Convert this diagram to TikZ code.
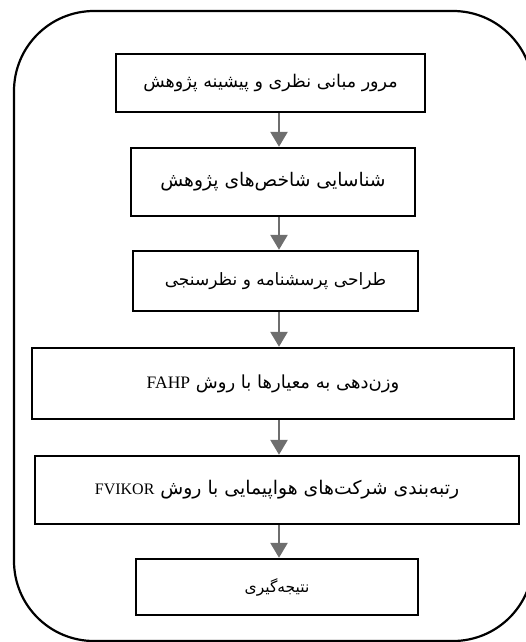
\documentclass[tikz,border=0pt]{standalone}
\usepackage{fontspec}
\usetikzlibrary{arrows.meta}
\TeXXeTstate=1
\newfontfamily\persianfont[Script=Arabic]{DejaVu Sans}
\newfontfamily\latinfont{Liberation Serif}
\definecolor{flowgray}{RGB}{110,110,110}
\tikzset{
  stage/.style={draw, line width=2.4pt, inner sep=0pt, font=\persianfont\fontsize{#1}{22}\selectfont},
  stage/.default=17.5,
  flow/.style={draw=flowgray, line width=2.6pt, -{Triangle[width=17pt,length=15pt]}, flowgray}
}
\begin{document}
\begin{tikzpicture}[x=1pt,y=-1pt]
\useasboundingbox (0,0) rectangle (525,642);
\draw[line width=2.2pt, rounded corners=80pt] (14,11) rectangle (533,641);
\coordinate (axis) at (279,0);
\node[stage=17.5, minimum width=309pt, minimum height=58pt] (review) at (270.5,83) {\beginR مرور مبانی نظری و پیشینه پژوهش\endR};
\node[stage=18.7, minimum width=284pt, minimum height=68pt] (indices) at (273,182) {\beginR شناسایی شاخص‌های پژوهش\endR};
\node[stage=17, minimum width=285pt, minimum height=60pt] (survey) at (275.5,281) {\beginR طراحی پرسشنامه و نظرسنجی\endR};
\node[stage=18, minimum width=482pt, minimum height=71pt] (weighting) at (273,383.5) {\beginR وزن‌دهی به معیارها با روش {\latinfont\fontsize{17.5}{22}\selectfont FAHP}\endR};
\node[stage=18.8, minimum width=484pt, minimum height=68pt] (ranking) at (277,490) {\beginR رتبه‌بندی شرکت‌های هواپیمایی با روش {\latinfont\fontsize{16}{22}\selectfont FVIKOR}\endR};
\node[stage=15.5, minimum width=282pt, minimum height=56pt] (result) at (277,587) {\beginR نتیجه‌گیری\endR};
\draw[flow] (review.south -| axis) -- (indices.north -| axis);
\draw[flow] (indices.south -| axis) -- (survey.north -| axis);
\draw[flow] (survey.south -| axis) -- (weighting.north -| axis);
\draw[flow] (weighting.south -| axis) -- (ranking.north -| axis);
\draw[flow] (ranking.south -| axis) -- (result.north -| axis);
\end{tikzpicture}
\end{document}
